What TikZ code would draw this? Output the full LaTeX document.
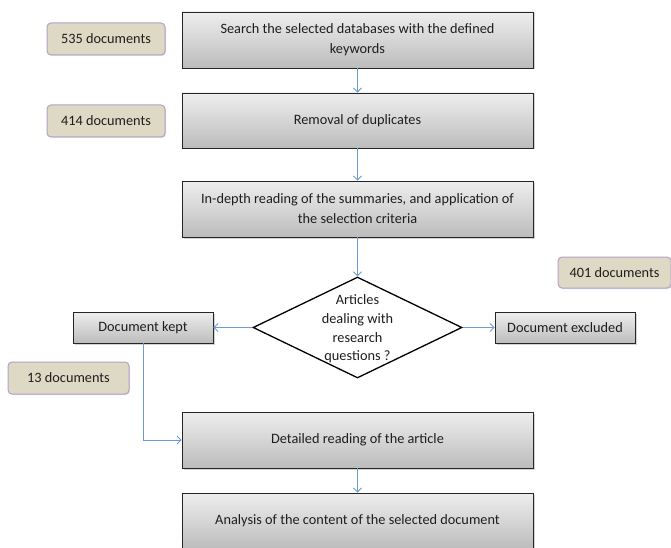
\documentclass[tikz,border=0pt]{standalone}
\usepackage{fontspec}
\setmainfont{Carlito}
\usetikzlibrary{shapes.geometric,arrows.meta,shadows}
\definecolor{tanfill}{RGB}{221,217,196}
\definecolor{tanline}{RGB}{178,161,199}
\definecolor{arrowblue}{RGB}{110,155,212}
\definecolor{boxtop}{RGB}{238,238,238}
\definecolor{boxbot}{RGB}{188,188,188}
\definecolor{textcol}{RGB}{30,30,30}
\tikzset{
  graybox/.style={draw=black!85, line width=0.9pt, top color=boxtop, bottom color=boxbot,
    inner sep=0pt, align=center, text=textcol, font=\fontsize{14.3}{20}\selectfont,
    drop shadow={shadow xshift=1.5pt, shadow yshift=-1.5pt, opacity=0.35}},
  tanbox/.style={draw=tanline, line width=1pt, fill=tanfill, rounded corners=4pt,
    inner sep=0pt, text=textcol, font=\fontsize{14.3}{17}\selectfont,
    drop shadow={shadow xshift=1pt, shadow yshift=-1pt, opacity=0.25}},
  conn/.style={draw=arrowblue, line width=0.9pt, -{Straight Barb[length=4pt,width=8pt]}},
}
\begin{document}
\begin{tikzpicture}[x=1pt,y=-1pt]
\useasboundingbox (0,0) rectangle (671,548);
% main process boxes
\node[graybox, minimum width=351pt, minimum height=56pt] (b1) at (357.5,40) {Search the selected databases with the defined\\keywords};
\node[graybox, minimum width=351pt, minimum height=55pt] (b2) at (357.5,120.5) {Removal of duplicates};
\node[graybox, minimum width=351pt, minimum height=56pt] (b3) at (357.5,209) {In-depth reading of the summaries, and application of\\the selection criteria};
\node[graybox, minimum width=351pt, minimum height=56pt] (b4) at (357.5,440) {Detailed reading of the article};
\node[graybox, minimum width=351pt, minimum height=56pt] (b5) at (357.5,521) {Analysis of the content of the selected document};
% decision
\node[diamond, draw=black, line width=1.3pt, fill=white, minimum width=209pt, minimum height=101pt, inner sep=0pt] (d) at (357.5,327.5) {};
\node[align=center, inner sep=0pt, text=textcol, font=\fontsize{14.3}{18.7}\selectfont] (dt) at (357.5,329) {Articles\\dealing with\\research\\questions ?};
% side boxes
\node[graybox, minimum width=140pt, minimum height=31pt] (kept) at (143,327.5) {Document kept};
\node[graybox, minimum width=140pt, minimum height=31pt] (excl) at (565,327.5) {Document excluded};
% counts
\node[tanbox, minimum width=118pt, minimum height=32pt] (n535) at (106,39) {535 documents};
\node[tanbox, minimum width=118pt, minimum height=32pt] (n414) at (106,121) {414 documents};
\node[tanbox, minimum width=113pt, minimum height=31pt] (n401) at (614.5,272.5) {401 documents};
\node[tanbox, minimum width=121pt, minimum height=32pt] (n13) at (68.5,378) {13 documents};
% connectors
\draw[conn] (b1) -- (b2);
\draw[conn] (b2) -- (b3);
\draw[conn] (b3) -- (d);
\draw[conn] (d.west) -- (kept.east);
\draw[conn] (d.east) -- (excl.west);
\draw[conn] (kept.south) |- (b4.west);
\draw[conn] (b4) -- (b5);
\end{tikzpicture}
\end{document}
